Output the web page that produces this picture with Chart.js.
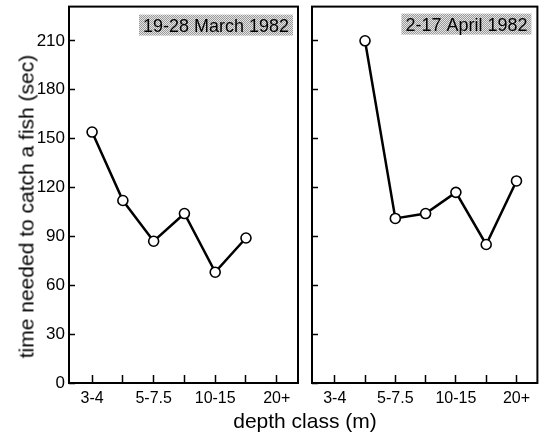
<!DOCTYPE html>
<html>
<head>
<meta charset="utf-8">
<script src="https://cdn.jsdelivr.net/npm/chart.js@4.4.1/dist/chart.umd.min.js"></script>
<style>
body { margin: 0; background: #fff; }
#wrap { position: relative; width: 544px; height: 434px; overflow: hidden; font-family: "Liberation Sans", Arial, sans-serif; }
#leftChart { position: absolute; left: 0; top: 0; }
#rightChart { position: absolute; left: 305px; top: 0; }
.axis-title { position: absolute; font-size: 21px; line-height: 21px; color: #000; white-space: nowrap; text-align: center; }
#yTitle { left: -174px; top: 196px; width: 400px; transform: rotate(-90deg); }
#xTitle { left: 155px; top: 410px; width: 300px; }
</style>
</head>
<body>
<div id="wrap">
  <canvas id="leftChart" width="305" height="434"></canvas>
  <canvas id="rightChart" width="239" height="434"></canvas>
  <div id="yTitle" class="axis-title">time needed to catch a fish (sec)</div>
  <div id="xTitle" class="axis-title">depth class (m)</div>
</div>
<script>
// depth classes, only every other one is labelled on the axis
const depthLabels = ['3-4', '', '5-7.5', '', '10-15', '', '20+'];
const yTicks = [0, 30, 60, 90, 120, 150, 180, 210];

const marchTimes = [154, 112, 87, 104, 68, 89, null];
const aprilTimes = [null, 210, 101, 104, 117, 85, 124];

const periods = ['19-28 March 1982', '2-17 April 1982'];

const FONT = '"Liberation Sans", Arial, sans-serif';

function toPoints(values) {
    const pts = [];
    values.forEach((v, i) => {
        if (v !== null) pts.push({ x: i + 1, y: v });
    });
    return pts;
}

function makeStipple(ctx) {
    const c = document.createElement('canvas');
    c.width = 2;
    c.height = 2;
    const p = c.getContext('2d');
    p.fillStyle = '#e4e4e4';
    p.fillRect(0, 0, 2, 2);
    p.fillStyle = '#9a9a9a';
    p.fillRect(0, 0, 1, 1);
    p.fillRect(1, 1, 1, 1);
    return ctx.createPattern(c, 'repeat');
}

// draws the frame around the panel and the period label in the top right corner
const panelFrame = {
    id: 'panelFrame',
    afterDraw(chart, args, opts) {
        const { ctx, chartArea } = chart;
        ctx.save();
        ctx.font = '19px ' + FONT;
        const textW = Math.min(ctx.measureText(opts.text).width, opts.maxText);
        const boxW = textW + 8;
        const boxX = chartArea.right - opts.insetRight - boxW;
        const boxY = chartArea.top + opts.insetTop;
        ctx.fillStyle = makeStipple(ctx);
        ctx.fillRect(boxX, boxY, boxW, 21);
        ctx.fillStyle = '#000';
        ctx.textBaseline = 'alphabetic';
        ctx.fillText(opts.text, boxX + 4, boxY + 17, opts.maxText);

        ctx.strokeStyle = '#000';
        ctx.lineWidth = 2;
        ctx.strokeRect(chartArea.left, chartArea.top, chartArea.right - chartArea.left, chartArea.bottom - chartArea.top);
        ctx.restore();
    }
};

function buildChart(canvasId, values, opts) {
    const ctx = document.getElementById(canvasId).getContext('2d');
    return new Chart(ctx, {
        type: 'line',
        data: {
            datasets: [{
                data: toPoints(values),
                borderColor: '#000',
                borderWidth: 2.5,
                pointRadius: 5,
                pointBorderWidth: 1.6,
                pointBackgroundColor: '#fff',
                pointBorderColor: '#000',
                tension: 0
            }]
        },
        options: {
            responsive: false,
            animation: false,
            layout: { padding: { left: 0, right: opts.padRight, top: 4, bottom: 0 } },
            plugins: {
                legend: { display: false },
                tooltip: { enabled: false },
                panelFrame: { text: opts.period, maxText: opts.maxText, insetRight: opts.insetRight, insetTop: opts.insetTop }
            },
            scales: {
                x: {
                    type: 'linear',
                    min: 0.25,
                    max: 7.69,
                    afterBuildTicks: scale => {
                        scale.ticks = depthLabels.map((l, i) => ({ value: i + 1 }));
                    },
                    afterFit: scale => {
                        scale.height = 51;
                        scale.paddingLeft = 0;
                        scale.paddingRight = 0;
                    },
                    grid: { drawOnChartArea: false, tickLength: -8, tickColor: '#000', tickWidth: 1.5 },
                    border: { display: false },
                    ticks: {
                        autoSkip: false,
                        maxRotation: 0,
                        padding: 14,
                        color: '#000',
                        font: { family: FONT, size: 16 },
                        callback: (value, index) => depthLabels[index]
                    }
                },
                y: {
                    type: 'linear',
                    min: 0,
                    max: 231,
                    afterBuildTicks: scale => {
                        scale.ticks = yTicks.map(v => ({ value: v }));
                    },
                    afterFit: scale => {
                        scale.width = opts.yWidth;
                        scale.paddingTop = 0;
                        scale.paddingBottom = 0;
                    },
                    grid: { drawOnChartArea: false, tickLength: -6, tickColor: '#000', tickWidth: 1.5 },
                    border: { display: false },
                    ticks: {
                        display: opts.showYLabels,
                        padding: 10,
                        color: '#000',
                        font: { family: FONT, size: 17 }
                    }
                }
            }
        },
        plugins: [panelFrame]
    });
}

buildChart('leftChart', marchTimes, {
    period: periods[0], maxText: 146, insetRight: 5, insetTop: 8,
    yWidth: 69, padRight: 7, showYLabels: true
});
buildChart('rightChart', aprilTimes, {
    period: periods[1], maxText: 122, insetRight: 6, insetTop: 7,
    yWidth: 7, padRight: 3, showYLabels: false
});
</script>
</body>
</html>
